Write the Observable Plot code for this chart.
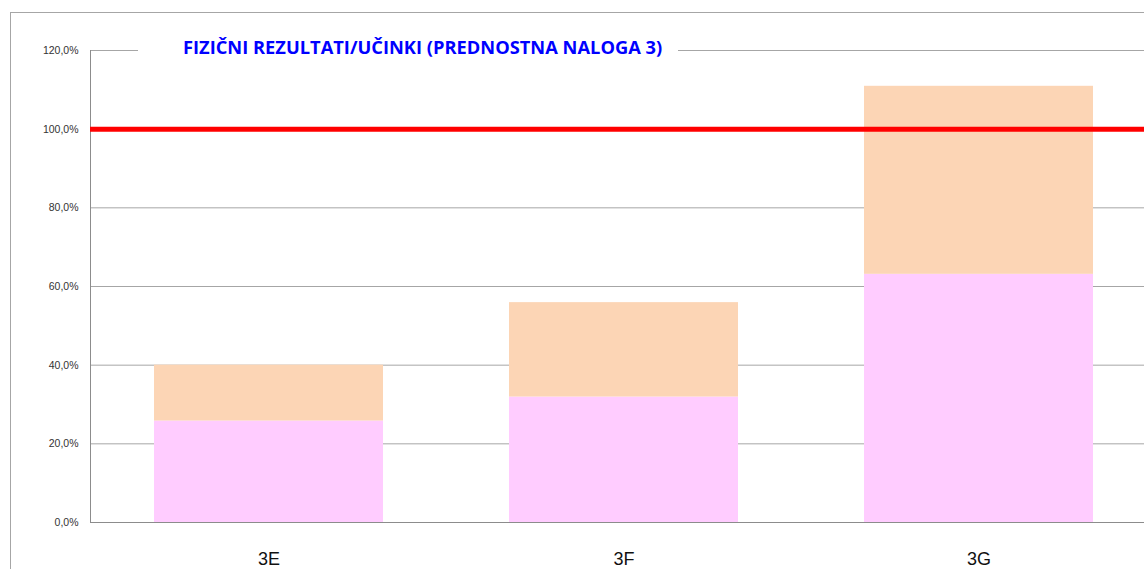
<!DOCTYPE html>
<html>
<head>
<meta charset="utf-8">
<script src="https://cdn.jsdelivr.net/npm/d3@7"></script>
<script src="https://cdn.jsdelivr.net/npm/@observablehq/plot@0.6"></script>
<style>
  html, body { margin: 0; padding: 0; background: #fff; }
  #wrap { position: relative; width: 1144px; height: 569px; overflow: hidden; }
  #border { position: absolute; left: 10px; top: 12px; width: 1200px; height: 600px;
            border-left: 1.5px solid #a6a6a6; border-top: 1.5px solid #a6a6a6; }
  #title { position: absolute; left: 138px; top: 35px; width: 540px; height: 24px;
           background: #fff; box-sizing: border-box; padding-left: 45px;
           font-family: "Open Sans", sans-serif; font-weight: 700; font-size: 18.3px;
           color: #0000ff; line-height: 24px; white-space: nowrap; overflow: hidden; }
  svg { position: absolute; left: 0; top: 0; }
</style>
</head>
<body>
<div id="wrap">
  <div id="border"></div>
</div>
<script>
const categories = ["3E", "3F", "3G"];
const seriesLower = [25.8, 31.9, 63.1];   // pink segment (%)
const seriesUpper = [14.2, 24.0, 47.8];   // peach segment (%), stacked on top
const yTicks = [0, 20, 40, 60, 80, 100, 120];
const targetLine = [100];
const titleText = "FIZIČNI REZULTATI/UČINKI (PREDNOSTNA NALOGA 3)";

const rows = [];
categories.forEach((c, i) => {
  rows.push({cat: c, series: "A", value: seriesLower[i]});
  rows.push({cat: c, series: "B", value: seriesUpper[i]});
});

const fmt = d => d.toFixed(1).replace(".", ",") + "%";

const chart = Plot.plot({
  width: 1144,
  height: 569,
  marginLeft: 90,
  marginRight: 0,
  marginTop: 50,
  marginBottom: 47,
  style: {background: "transparent", overflow: "hidden"},
  x: {domain: categories, range: [91, 1156], paddingInner: 0.355, paddingOuter: 0.1775, align: 0.5, label: null},
  y: {domain: [0, 120], label: null},
  color: {domain: ["A", "B"], range: ["#ffccff", "#fcd5b5"]},
  marks: [
    Plot.gridY(yTicks, {stroke: "#a6a6a6", strokeOpacity: 1, strokeWidth: 1}),
    Plot.barY(rows, {x: "cat", y: "value", fill: "series", order: ["A", "B"]}),
    Plot.ruleY([0], {stroke: "#8c8c8c", strokeWidth: 1}),
    Plot.frame({anchor: "left", stroke: "#8c8c8c", strokeWidth: 1}),
    Plot.ruleY(targetLine, {stroke: "#ff0000", strokeWidth: 5}),
    Plot.axisY(yTicks, {tickSize: 0, tickPadding: 12, tickFormat: fmt, fontSize: 10.5,
      fontFamily: "Liberation Sans, Arial, sans-serif", fill: "#333", label: null}),
    Plot.axisX({tickSize: 0, tickPadding: 30, fontSize: 18,
      fontFamily: "Liberation Sans, Arial, sans-serif", fill: "#111", label: null})
  ]
});

const wrap = document.getElementById("wrap");
wrap.appendChild(chart);
const t = document.createElement("div");
t.id = "title";
t.textContent = titleText;
wrap.appendChild(t);
</script>
</body>
</html>
